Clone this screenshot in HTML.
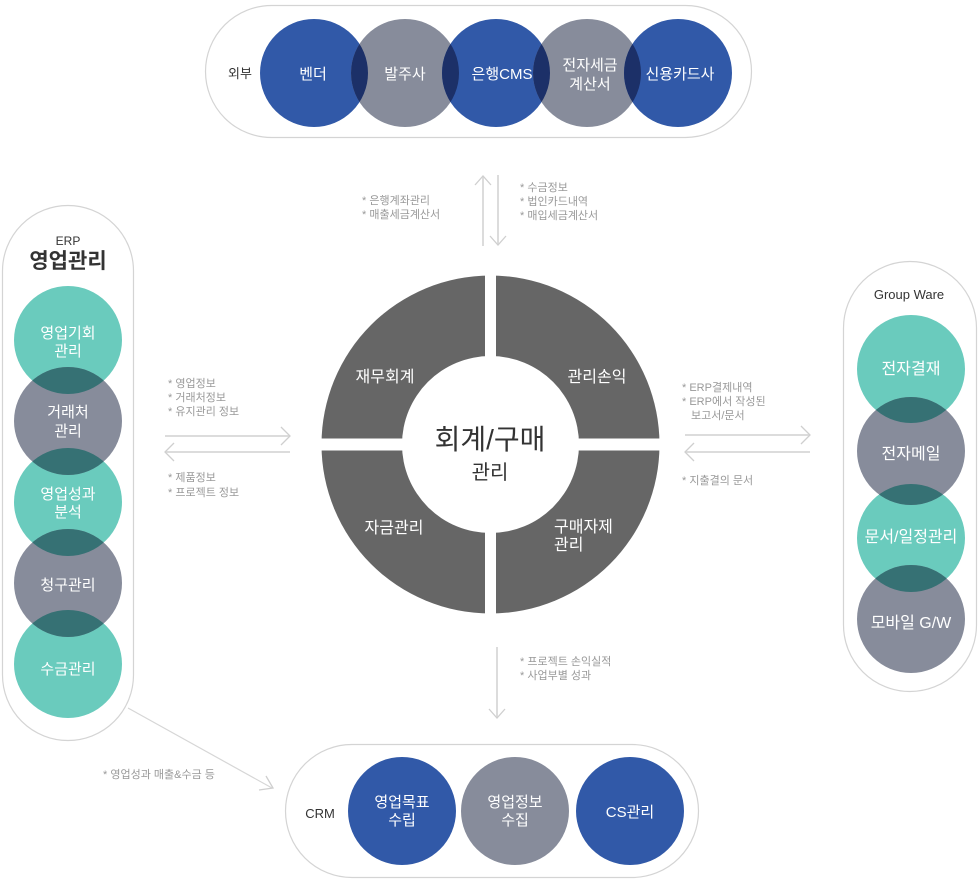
<!DOCTYPE html>
<html><head><meta charset="utf-8"><style>
html,body{margin:0;padding:0;background:#fff;}
svg{display:block;font-family:"Liberation Sans","Noto Sans CJK KR",sans-serif;}
.w{fill:#fff;font-size:15px;text-anchor:middle;}
.n{fill:#999;font-size:11px;}
.ln{stroke:#dcdcdc;stroke-width:2;fill:none;}
.hd{stroke:#cfcfcf;stroke-width:1.3;fill:none;}
.pill{fill:#fff;stroke:#d4d4d4;stroke-width:1.2;}
</style></head><body>
<svg width="980" height="888" viewBox="0 0 980 888">
<defs>
<clipPath id="t1"><circle cx="314" cy="73" r="54"/></clipPath>
<clipPath id="t3"><circle cx="496" cy="73" r="54"/></clipPath>
<clipPath id="t5"><circle cx="678" cy="73" r="54"/></clipPath>
<clipPath id="l2"><circle cx="68" cy="421" r="54"/></clipPath>
<clipPath id="l4"><circle cx="68" cy="583" r="54"/></clipPath>
<clipPath id="r2"><circle cx="911" cy="451" r="54"/></clipPath>
<clipPath id="r4"><circle cx="911" cy="619" r="54"/></clipPath>
</defs>

<!-- TOP -->
<rect class="pill" x="205.5" y="5.5" width="546" height="132" rx="66"/>
<text x="240" y="78" style="font-size:13px;fill:#333;text-anchor:middle">외부</text>
<circle cx="314" cy="73" r="54" fill="#3159a8"/>
<circle cx="405" cy="73" r="54" fill="#878c9b"/>
<circle cx="496" cy="73" r="54" fill="#3159a8"/>
<circle cx="587" cy="73" r="54" fill="#878c9b"/>
<circle cx="678" cy="73" r="54" fill="#3159a8"/>
<circle cx="405" cy="73" r="54" fill="#1c3068" clip-path="url(#t1)"/>
<circle cx="405" cy="73" r="54" fill="#1c3068" clip-path="url(#t3)"/>
<circle cx="587" cy="73" r="54" fill="#1c3068" clip-path="url(#t3)"/>
<circle cx="587" cy="73" r="54" fill="#1c3068" clip-path="url(#t5)"/>
<text class="w" x="313" y="79">벤더</text>
<text class="w" x="405" y="79">발주사</text>
<text class="w" x="502" y="79">은행CMS</text>
<text class="w" x="590" y="70">전자세금</text>
<text class="w" x="590" y="89">계산서</text>
<text class="w" x="680" y="79">신용카드사</text>

<!-- top arrows -->
<line class="ln" x1="483" y1="177" x2="483" y2="246"/>
<polyline class="hd" points="475,185 483,176 491,185"/>
<line class="ln" x1="498" y1="175" x2="498" y2="244"/>
<polyline class="hd" points="490,236 498,245 506,236"/>
<text class="n" x="362" y="204">* 은행계좌관리</text>
<text class="n" x="362" y="218">* 매출세금계산서</text>
<text class="n" x="520" y="191">* 수금정보</text>
<text class="n" x="520" y="205">* 법인카드내역</text>
<text class="n" x="520" y="219">* 매입세금계산서</text>

<!-- DONUT -->
<circle cx="490.5" cy="444.5" r="169" fill="#666"/>
<circle cx="490.5" cy="444.5" r="88.5" fill="#fff"/>
<rect x="485" y="270" width="11" height="350" fill="#fff"/>
<rect x="315" y="438.5" width="350" height="12" fill="#fff"/>
<text class="w" x="385" y="382" style="font-size:16px">재무회계</text>
<text class="w" x="597" y="382" style="font-size:16px">관리손익</text>
<text class="w" x="394" y="533" style="font-size:16px">자금관리</text>
<text x="554" y="532" style="font-size:16px;fill:#fff">구매자제</text>
<text x="554" y="550" style="font-size:16px;fill:#fff">관리</text>
<text x="490" y="449" style="font-size:28px;fill:#333;text-anchor:middle">회계/구매</text>
<text x="490" y="479" style="font-size:20px;fill:#333;text-anchor:middle">관리</text>

<!-- LEFT -->
<rect class="pill" x="2.5" y="205.5" width="131" height="535" rx="65.5"/>
<text x="68" y="245" style="font-size:12px;fill:#333;text-anchor:middle">ERP</text>
<text x="68" y="268" style="font-size:21px;font-weight:bold;fill:#333;text-anchor:middle">영업관리</text>
<circle cx="68" cy="340" r="54" fill="#6acbbd"/>
<circle cx="68" cy="502" r="54" fill="#6acbbd"/>
<circle cx="68" cy="664" r="54" fill="#6acbbd"/>
<circle cx="68" cy="421" r="54" fill="#878c9b"/>
<circle cx="68" cy="583" r="54" fill="#878c9b"/>
<circle cx="68" cy="340" r="54" fill="#367174" clip-path="url(#l2)"/>
<circle cx="68" cy="502" r="54" fill="#367174" clip-path="url(#l2)"/>
<circle cx="68" cy="502" r="54" fill="#367174" clip-path="url(#l4)"/>
<circle cx="68" cy="664" r="54" fill="#367174" clip-path="url(#l4)"/>
<text class="w" x="68" y="338">영업기회</text>
<text class="w" x="68" y="356">관리</text>
<text class="w" x="68" y="417">거래처</text>
<text class="w" x="68" y="436">관리</text>
<text class="w" x="68" y="499">영업성과</text>
<text class="w" x="68" y="517">분석</text>
<text class="w" x="68" y="590">청구관리</text>
<text class="w" x="68" y="674">수금관리</text>

<line class="ln" x1="165" y1="436" x2="290" y2="436"/>
<polyline class="hd" points="281,427 290,436 281,445"/>
<line class="ln" x1="165" y1="452" x2="290" y2="452"/>
<polyline class="hd" points="174,443 165,452 174,461"/>
<text class="n" x="168" y="387">* 영업정보</text>
<text class="n" x="168" y="401">* 거래처정보</text>
<text class="n" x="168" y="415">* 유지관리 정보</text>
<text class="n" x="168" y="481">* 제품정보</text>
<text class="n" x="168" y="496">* 프로젝트 정보</text>

<line x1="128" y1="708" x2="272" y2="788" stroke="#d6d6d6" stroke-width="1.2"/>
<polyline class="hd" points="266,776 273,788 259,790"/>
<text class="n" x="103" y="778">* 영업성과 매출&amp;수금 등</text>

<!-- RIGHT -->
<rect class="pill" x="843.5" y="261.5" width="133" height="430" rx="66.5"/>
<text x="909" y="299" style="font-size:13px;fill:#333;text-anchor:middle">Group Ware</text>
<circle cx="911" cy="369" r="54" fill="#6acbbd"/>
<circle cx="911" cy="538" r="54" fill="#6acbbd"/>
<circle cx="911" cy="451" r="54" fill="#878c9b"/>
<circle cx="911" cy="619" r="54" fill="#878c9b"/>
<circle cx="911" cy="369" r="54" fill="#367174" clip-path="url(#r2)"/>
<circle cx="911" cy="538" r="54" fill="#367174" clip-path="url(#r2)"/>
<circle cx="911" cy="538" r="54" fill="#367174" clip-path="url(#r4)"/>
<text class="w" x="911" y="374" style="font-size:16px">전자결재</text>
<text class="w" x="911" y="459" style="font-size:16px">전자메일</text>
<text class="w" x="911" y="542" style="font-size:16px">문서/일정관리</text>
<text class="w" x="911" y="628" style="font-size:16px">모바일 G/W</text>

<line class="ln" x1="685" y1="435" x2="810" y2="435"/>
<polyline class="hd" points="801,426 810,435 801,444"/>
<line class="ln" x1="685" y1="452" x2="810" y2="452"/>
<polyline class="hd" points="694,443 685,452 694,461"/>
<text class="n" x="682" y="391">* ERP결제내역</text>
<text class="n" x="682" y="405">* ERP에서 작성된</text>
<text class="n" x="691" y="419">보고서/문서</text>
<text class="n" x="682" y="484">* 지출결의 문서</text>

<!-- BOTTOM -->
<line class="ln" x1="497" y1="647" x2="497" y2="718"/>
<polyline class="hd" points="489,709 497,718 505,709"/>
<text class="n" x="520" y="665">* 프로젝트 손익실적</text>
<text class="n" x="520" y="679">* 사업부별 성과</text>

<rect class="pill" x="285.5" y="744.5" width="413" height="133" rx="66.5"/>
<text x="320" y="818" style="font-size:13px;fill:#333;text-anchor:middle">CRM</text>
<circle cx="402" cy="811" r="54" fill="#3159a8"/>
<circle cx="515" cy="811" r="54" fill="#878c9b"/>
<circle cx="630" cy="811" r="54" fill="#3159a8"/>
<text class="w" x="402" y="807">영업목표</text>
<text class="w" x="402" y="825">수립</text>
<text class="w" x="515" y="807">영업정보</text>
<text class="w" x="515" y="825">수집</text>
<text class="w" x="630" y="817">CS관리</text>
</svg>
</body></html>
